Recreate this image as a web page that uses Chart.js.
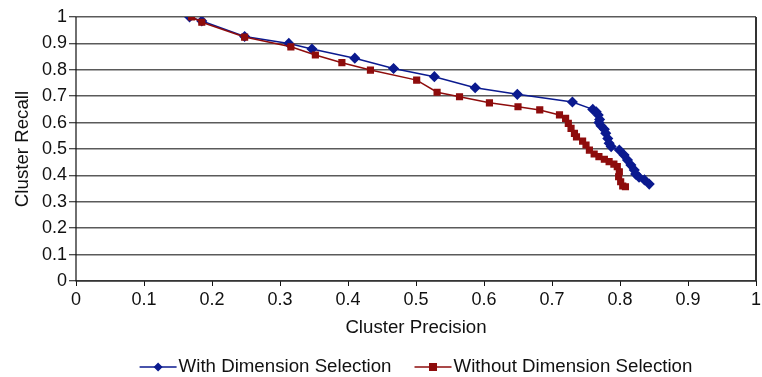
<!DOCTYPE html>
<html>
<head>
<meta charset="utf-8">
<script src="https://cdn.jsdelivr.net/npm/chart.js@4/dist/chart.umd.min.js"></script>
<style>
html,body{margin:0;padding:0;background:#fff;}
#wrap{width:762px;height:377px;}
</style>
</head>
<body>
<div id="wrap"><canvas id="c" width="762" height="377"></canvas></div>
<script>
const seriesNames = ["With Dimension Selection", "Without Dimension Selection"];
const xTicks = [0,0.1,0.2,0.3,0.4,0.5,0.6,0.7,0.8,0.9,1];
const yTicks = [0,0.1,0.2,0.3,0.4,0.5,0.6,0.7,0.8,0.9,1];

const withPrecision = [0.167,0.185,0.248,0.313,0.347,0.410,0.467,0.527,0.587,0.649,0.730,0.760,0.765,0.768,0.770,0.769,0.772,0.777,0.779,0.782,0.784,0.787,0.799,0.806,0.811,0.816,0.821,0.823,0.828,0.836,0.843];
const withRecall    = [1.000,0.985,0.926,0.900,0.879,0.844,0.805,0.774,0.732,0.707,0.678,0.650,0.641,0.629,0.612,0.600,0.588,0.575,0.560,0.540,0.522,0.509,0.496,0.477,0.458,0.439,0.420,0.405,0.393,0.383,0.367];

const withoutPrecision = [0.170,0.185,0.248,0.316,0.352,0.391,0.433,0.501,0.531,0.564,0.608,0.650,0.682,0.711,0.720,0.724,0.728,0.733,0.736,0.745,0.750,0.755,0.762,0.769,0.777,0.784,0.791,0.796,0.799,0.798,0.801,0.804,0.808];
const withoutRecall    = [1.000,0.980,0.924,0.887,0.856,0.827,0.799,0.761,0.715,0.698,0.675,0.660,0.648,0.629,0.616,0.597,0.578,0.559,0.546,0.530,0.515,0.496,0.481,0.471,0.461,0.452,0.443,0.433,0.414,0.395,0.376,0.360,0.357];

const BLUE = '#0b1a8f';
const RED = '#8e0c0c';
const FONT = "'Liberation Sans', Arial, Helvetica, sans-serif";
const TEXT_SIZE = 18.7;

function toPts(xs, ys){ return xs.map((x,i)=>({x:x, y:ys[i]})); }

const frame = {
  id:'frame',
  afterDatasetsDraw(chart){
    const {ctx, chartArea:a} = chart;
    ctx.save();
    ctx.strokeStyle = '#333';
    ctx.lineWidth = 2;
    ctx.beginPath();
    ctx.moveTo(a.right, a.top); ctx.lineTo(a.right, a.bottom);
    ctx.stroke();
    ctx.strokeStyle = '#111';
    ctx.lineWidth = 1.2;
    ctx.beginPath();
    ctx.moveTo(a.left, a.top); ctx.lineTo(a.left, a.bottom); ctx.lineTo(a.right, a.bottom);
    ctx.stroke();
    ctx.restore();
  }
};

// legend centred under the plot area, line + marker icons
const lineLegend = {
  id:'lineLegend',
  afterDraw(chart){
    const {ctx, chartArea:a} = chart;
    const y = 367;
    const iconW = 37, gapIcon = 2, gapItem = 23;
    ctx.save();
    ctx.font = TEXT_SIZE + 'px ' + FONT;
    ctx.textBaseline = 'middle';
    const items = [
      {text: seriesNames[0], color: BLUE, style: 'diamond'},
      {text: seriesNames[1], color: RED, style: 'square'}
    ];
    const widths = items.map(it => ctx.measureText(it.text).width);
    let total = 0;
    items.forEach((it,i)=>{ total += iconW + gapIcon + widths[i]; });
    total += gapItem;
    let x = (a.left + a.right)/2 - total/2;
    items.forEach((it,i)=>{
      ctx.strokeStyle = it.color; ctx.fillStyle = it.color; ctx.lineWidth = 1.5;
      ctx.beginPath(); ctx.moveTo(x, y); ctx.lineTo(x+iconW, y); ctx.stroke();
      const cx = x + iconW/2;
      if (it.style === 'diamond'){
        ctx.beginPath(); ctx.moveTo(cx, y-4.5); ctx.lineTo(cx+4.5, y); ctx.lineTo(cx, y+4.5); ctx.lineTo(cx-4.5, y); ctx.closePath(); ctx.fill();
      } else {
        ctx.fillRect(cx-4, y-4, 8, 8);
      }
      x += iconW + gapIcon;
      ctx.fillStyle = '#111';
      ctx.fillText(it.text, x, y);
      x += widths[i] + gapItem;
    });
    ctx.restore();
  }
};

Chart.defaults.font.family = FONT;
Chart.defaults.color = '#111';

new Chart(document.getElementById('c'), {
  type: 'scatter',
  data: {
    datasets: [
      { label: seriesNames[0], data: toPts(withPrecision, withRecall), showLine: true,
        borderColor: BLUE, backgroundColor: BLUE, borderWidth: 1.5,
        pointStyle: 'rectRot', pointRadius: 4.5, pointHoverRadius: 4.5, order: 1 },
      { label: seriesNames[1], data: toPts(withoutPrecision, withoutRecall), showLine: true,
        borderColor: RED, backgroundColor: RED, borderWidth: 1.5,
        pointStyle: 'rect', pointRadius: 4, pointHoverRadius: 4, order: 0 }
    ]
  },
  options: {
    responsive: false,
    animation: false,
    layout: { padding: { top: 17, right: 5, left: 0, bottom: 0 } },
    plugins: {
      tooltip: { enabled: false },
      legend: { display: false }
    },
    scales: {
      x: {
        type: 'linear', min: 0, max: 1,
        afterBuildTicks(s){ s.ticks = xTicks.map(v=>({value:v})); },
        afterFit(s){ s.height = 96; s.paddingRight = 0; s.paddingLeft = 0; },
        ticks: { font: { size: 18 }, color: '#111', padding: 3, maxRotation: 0,
                 callback: v => String(+v.toFixed(1)) },
        grid: { drawOnChartArea: false, color: '#111', tickLength: 5, lineWidth: 1 },
        border: { display: false },
        title: { display: true, text: 'Cluster Precision', font: { size: TEXT_SIZE }, color: '#111', padding: { top: 6, bottom: 38 } }
      },
      y: {
        type: 'linear', min: 0, max: 1,
        afterBuildTicks(s){ s.ticks = yTicks.map(v=>({value:v})); },
        afterFit(s){ s.width = 76; s.paddingTop = 0; s.paddingBottom = 0; },
        ticks: { font: { size: 18 }, color: '#111', padding: 2,
                 callback: v => String(+v.toFixed(1)) },
        grid: { color: '#5a5a5a', lineWidth: 1.5, tickLength: 7, tickColor: '#111', tickWidth: 1 },
        border: { display: false },
        title: { display: true, text: 'Cluster Recall', font: { size: TEXT_SIZE }, color: '#111', padding: { top: 12, bottom: 0 } }
      }
    }
  },
  plugins: [frame, lineLegend]
});
</script>
</body>
</html>
